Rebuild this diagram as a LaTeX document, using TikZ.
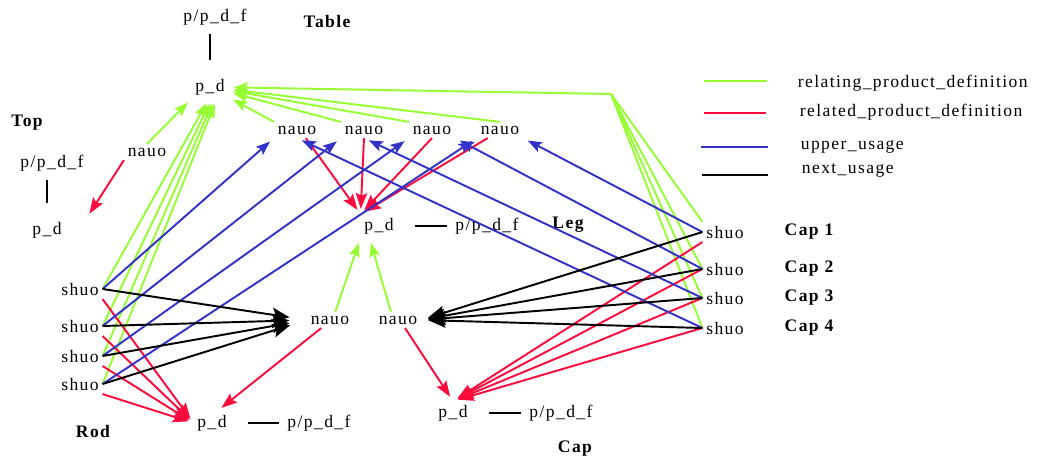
\documentclass[tikz,border=0pt]{standalone}
\usepackage{fontspec}
\setmainfont{Liberation Serif}[LetterSpace=8]
\usetikzlibrary{arrows.meta}
\definecolor{relgreen}{RGB}{150,255,50}
\definecolor{relred}{RGB}{255,10,60}
\definecolor{upblue}{RGB}{50,50,200}

\tikzset{
  lbl/.style={inner sep=2pt},
  part/.style={font=\bfseries},
  relating/.style={draw=relgreen, line width=1.1pt, -{Stealth[length=8pt,width=6pt,inset=1.5pt]}, shorten >=3pt},
  relatingline/.style={draw=relgreen, line width=1.1pt},
  related/.style={draw=relred, line width=1.1pt, -{Stealth[length=9pt,width=6.5pt,inset=1.5pt]}, shorten >=3pt},
  relatedline/.style={draw=relred, line width=1.1pt},
  upper/.style={draw=upblue, line width=1.1pt, -{Stealth[length=8pt,width=6pt,inset=1.5pt]}, shorten >=3pt},
  upperline/.style={draw=upblue, line width=1.1pt},
  nextu/.style={draw=black, line width=1.1pt, -{Stealth[length=10pt,width=8pt,inset=2pt]}},
  nextline/.style={draw=black, line width=1.1pt},
  vbar/.style={line width=1.7pt, shorten <=3pt, shorten >=8.5pt},
  hbar/.style={line width=1.1pt, shorten <=10pt, shorten >=2.5pt},
}

\begin{document}
\begin{tikzpicture}[x=0.02cm, y=-0.02cm]
  \useasboundingbox (0,0) rectangle (1038,462);

  % Table
  \node[lbl] (tpdf) at (215,17) {p/p\_d\_f};
  \node[lbl,part] (ltable) at (327,21) {Table};
  \node[lbl] (tpd) at (210,87) {p\_d};
  \draw[vbar] (tpd.north |- tpdf.south) -- (tpd.north);

  % Top
  \node[lbl,part] (ltop) at (27,123) {Top};
  \node[lbl] (toppdf) at (52,163) {p/p\_d\_f};
  \node[lbl] (toppd) at (47,230) {p\_d};
  \draw[vbar] (toppd.north |- toppdf.south) -- (toppd.north);
  \node[lbl] (topn) at (147,152) {nauo};

  % Leg
  \foreach \i/\x in {1/297,2/364,3/432,4/500}
    \node[lbl] (n\i) at (\x,130) {nauo};
  \node[lbl] (lpd) at (379,226) {p\_d};
  \node[lbl] (lpdf) at (487,226) {p/p\_d\_f};
  \node[lbl,part] (lleg) at (568,225) {Leg};
  \draw[hbar] (lpd) -- (lpdf);
  \node[lbl] (m1) at (330,320) {nauo};
  \node[lbl] (m2) at (398,320) {nauo};

  % Rod
  \foreach \i/\y in {1/289,2/326,3/356,4/384}
    \node[lbl] (r\i) at (80,\y) {shuo};
  \node[lbl,part] (lrod) at (93,431) {Rod};
  \node[lbl] (rpd) at (212,423) {p\_d};
  \node[lbl] (rpdf) at (319,423) {p/p\_d\_f};
  \draw[hbar] (rpd) -- (rpdf);

  % Cap
  \foreach \i/\y in {1/232,2/269,3/298,4/328} {
    \node[lbl] (c\i) at (725,\y) {shuo};
    \node[lbl,part] (lc\i) at (809,\y) {Cap \i};
  }
  \node[lbl] (cpd) at (453,413) {p\_d};
  \node[lbl] (cpdf) at (561,413) {p/p\_d\_f};
  \node[lbl,part] (lcap) at (575,449) {Cap};
  \draw[hbar] (cpd) -- (cpdf);

  % relating_product_definition
  \draw[relating] (topn.north) -- (tpd.south west);
  \foreach \s in {n1.north west, n2.north west, n3.north west, n4.north}
    \draw[relating] (\s) -- (tpd);
  \foreach \i/\a in {1/265,2/278,3/290,4/300}
    \draw[relating] (r\i.east) -- (tpd.\a);
  \coordinate (cj) at (611,94);
  \draw[relating] (cj) -- (tpd);
  \draw[relatingline] (c1.north west) -- (cj);
  \foreach \i in {2,3,4}
    \draw[relatingline] (c\i.west) -- (cj);
  \draw[relating] ([xshift=3pt]m1.north) -- (lpd.south west);
  \draw[relating] ([xshift=-4pt]m2.north) -- ([xshift=5pt]lpd.south west);

  % related_product_definition
  \draw[related] (topn.south west) -- ([xshift=12pt]toppd.north east);
  \foreach \s/\xs in {n1/5pt, n2/0pt, n3/0pt, n4/-7pt}
    \draw[related] ([xshift=\xs]\s.south) -- (lpd.north west);
  \foreach \i in {1,...,4}
    \draw[related] (r\i.south east) -- (rpd.west);
  \draw[related] (c1.south west) -- (cpd.north);
  \foreach \i in {2,3,4}
    \draw[related] (c\i.west) -- (cpd.north);
  \draw[related] ([xshift=-5pt]m1.south) -- ([xshift=3pt]rpd.north);
  \draw[related] ([xshift=4pt]m2.south) -- (cpd.north);

  % upper_usage
  \foreach \i in {1,...,4}
    \draw[upper] (r\i.east) -- (n\i.south west);
  \foreach \i/\t in {1/n4.south east, 2/n3.south east, 3/n2.south, 4/n1.south}
    \draw[upper] (c\i.west) -- (\t);

  % next_usage
  \foreach \i in {1,...,4}
    \draw[nextu, shorten >=10pt] (r\i.east) -- (m1.west);
  \foreach \i in {1,...,4}
    \draw[nextu, shorten >=4pt] (c\i.west) -- (m2.east);

  % legend
  \node[lbl,anchor=west] (lg1) at (794,83) {relating\_product\_definition};
  \node[lbl,anchor=west] (lg2) at (796,112) {related\_product\_definition};
  \node[lbl,anchor=west] (lg3) at (797,147) {upper\_usage};
  \node[lbl,anchor=west] (lg4) at (798,170) {next\_usage};
  \draw[relatingline] (lg1.west) ++(-90,-2) -- ++(63,0);
  \draw[relatedline] (lg2.west) ++(-92,1) -- ++(62,0);
  \draw[upperline] (lg3.west) ++(-96,0) -- ++(67,0);
  \draw[nextline] (lg4.west) ++(-96,5) -- ++(66,0);
\end{tikzpicture}
\end{document}
